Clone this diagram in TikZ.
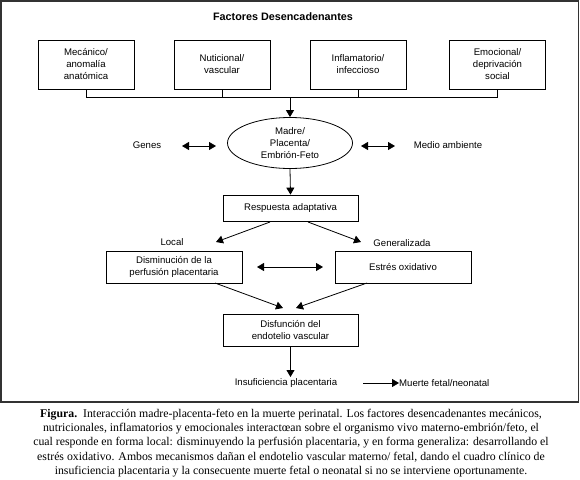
\documentclass[tikz,border=0pt]{standalone}
\usepackage{fontspec}
\setmainfont{Liberation Serif}
\setsansfont{Liberation Sans}
\usetikzlibrary{arrows.meta,shapes.geometric}
\begin{document}
\begin{tikzpicture}[x=1pt,y=-1pt,
  lbl/.style={font=\sffamily\fontsize{9.6}{12}\selectfont, inner sep=0pt},
  boxn/.style={draw, line width=0.8pt, lbl, align=center, minimum width=96pt, minimum height=49pt},
  boxw/.style={draw, line width=0.8pt, lbl, align=center, minimum width=136pt, minimum height=32pt},
  boxm/.style={draw, line width=0.8pt, lbl, align=center, minimum width=135pt},
  conn/.style={line width=0.8pt},
  arr/.style={line width=0.8pt, -{Triangle[length=7pt,width=8pt]}},
  darr/.style={line width=0.8pt, {Triangle[length=7pt,width=8pt]}-{Triangle[length=7pt,width=8pt]}}
]
\useasboundingbox (0,0) rectangle (580,479);
\fill[white] (0,0) rectangle (580,479);
\draw[line width=1.2pt, black!80] (1,1) rectangle (578.5,402);

\node[lbl, font=\sffamily\bfseries\fontsize{10.8}{12}\selectfont] (title) at (283,17) {Factores Desencadenantes};

\node[boxn] (b1) at (86,64.5) {Mecánico/\\anomalía\\anatómica};
\node[boxn] (b2) at (222,64.5) {Nuticional/\\vascular};
\node[boxn] (b3) at (358,64.5) {Inflamatorio/\\infeccioso};
\node[boxn] (b4) at (497.5,64.5) {Emocional/\\deprivación\\social};

\coordinate (j1) at (86,97);
\coordinate (j2) at (222,97);
\coordinate (j3) at (358,97);
\coordinate (j4) at (497.5,97);
\coordinate (jc) at (290,97);
\draw[conn] (b1.south) -- (j1) -- (j4) -- (b4.south);
\draw[conn] (b2.south) -- (j2);
\draw[conn] (b3.south) -- (j3);

\node[draw, ellipse, line width=0.8pt, lbl, align=center, minimum width=125pt, minimum height=51pt] (mpe) at (290,143) {Madre/\\Placenta/\\Embrión-Feto};
\draw[arr] (jc) -- (mpe.north);

\node[lbl] (genes) at (147,145) {Genes};
\node[lbl] (medio) at (448,145) {Medio ambiente};
\coordinate (ga) at (182,146);
\coordinate (gb) at (216,146);
\coordinate (ma) at (361,146);
\coordinate (mb) at (395,146);
\draw[darr] (ga) -- (gb);
\draw[darr] (ma) -- (mb);

\node[boxm, minimum height=26pt] (resp) at (290.5,208) {Respuesta adaptativa};
\draw[arr] (mpe.south) -- (resp.north);

\coordinate (rl) at (270,222);
\coordinate (rr) at (308,222);
\coordinate (tl) at (216,242);
\coordinate (tr) at (361,242);
\draw[arr] (rl) -- (tl);
\draw[arr] (rr) -- (tr);
\node[lbl] (local) at (172,242) {Local};
\node[lbl] (gen) at (402,243) {Generalizada};

\node[boxw] (dism) at (174,267) {Disminución de la\\perfusión placentaria};
\node[boxw] (estres) at (403,267) {Estrés oxidativo};
\coordinate (da) at (257,267);
\coordinate (db) at (323,267);
\draw[darr] (da) -- (db);

\node[boxm, minimum height=32pt] (disf) at (290.5,330) {Disfunción del\\endotelio vascular};
\coordinate (dl) at (215,283);
\coordinate (dr) at (367,283);
\coordinate (el) at (283,308);
\coordinate (er) at (296,308);
\draw[arr] (dl) -- (el);
\draw[arr] (dr) -- (er);

\node[lbl] (insuf) at (286,383) {Insuficiencia placentaria};
\draw[arr] (disf.south) -- (290.5,377);
\node[lbl, anchor=west] (muerte) at (399,383) {Muerte fetal/neonatal};
\coordinate (ia) at (363,383);
\draw[arr] (ia) -- (muerte.west);

\node[align=center, inner sep=0pt, font=\fontsize{11.8}{14.4}\selectfont] (cap) at (291,443)
{\textbf{Figura.}\ \ Interacción madre-placenta-feto en la muerte perinatal. Los factores desencadenantes mecánicos,\\
nutricionales, inflamatorios y emocionales interactœan sobre el organismo vivo materno-embrión/feto, el\\
cual responde en forma local: disminuyendo la perfusión placentaria, y en forma generaliza: desarrollando el\\
estrés oxidativo. Ambos mecanismos dañan el endotelio vascular materno/ fetal, dando el cuadro clínico de\\
insuficiencia placentaria y la consecuente muerte fetal o neonatal si no se interviene oportunamente.};
\end{tikzpicture}
\end{document}
